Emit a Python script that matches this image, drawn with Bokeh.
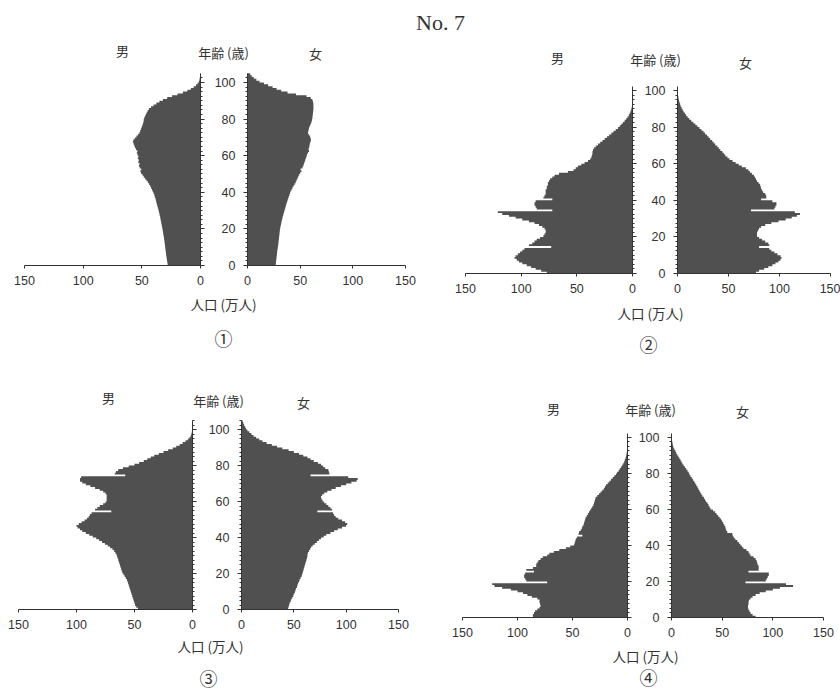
import numpy as np
from bokeh.plotting import figure
from bokeh.models import (Range1d, LinearAxis, FixedTicker, SingleIntervalTicker,
                          Label, CustomJSTickFormatter)
from bokeh.layouts import column, row
from bokeh.embed import file_html
from bokeh.resources import INLINE

# ---------------------------------------------------------------- data
# single-year ages; population per age in units of 10,000 people (万人)
ages_105 = list(range(105))
ages_102 = list(range(102))

male_1 = [28.0, 28.2, 28.5, 28.7, 29.0, 29.2, 29.4, 29.6, 29.8, 30.0,
          30.2, 30.4, 30.6, 30.8, 31.0, 31.2, 31.5, 31.8, 32.0, 32.3,
          32.6, 32.9, 33.2, 33.5, 33.8, 34.1, 34.4, 34.8, 35.1, 35.5,
          35.9, 36.3, 36.8, 37.2, 37.6, 38.0, 38.4, 38.9, 39.4, 40.0,
          40.7, 41.4, 42.1, 42.9, 43.8, 44.8, 46.0, 47.2, 48.4, 49.5,
          50.6, 51.2, 50.5, 51.8, 52.4, 52.0, 53.0, 52.6, 53.4, 53.0,
          53.6, 54.2, 53.8, 55.0, 55.8, 56.4, 57.0, 57.6, 57.2, 56.0,
          54.6, 53.2, 52.0, 51.4, 50.8, 50.2, 49.6, 49.0, 48.6, 48.4,
          48.0, 47.4, 46.6, 45.8, 45.0, 44.0, 42.2, 40.0, 37.6, 35.0,
          32.0, 28.4, 24.2, 19.6, 15.0, 11.2, 8.2, 5.8, 3.8, 2.4,
          1.4, 0.9, 0.6, 0.4, 0.2]
female_1 = [26.8, 27.0, 27.2, 27.4, 27.6, 27.8, 28.0, 28.2, 28.4, 28.7,
            29.0, 29.2, 29.4, 29.6, 29.8, 30.0, 30.2, 30.4, 30.6, 30.8,
            31.1, 31.4, 31.8, 32.2, 32.6, 33.0, 33.4, 33.9, 34.4, 34.9,
            35.4, 35.9, 36.4, 36.9, 37.4, 38.0, 38.6, 39.2, 39.8, 40.4,
            41.0, 41.9, 42.8, 43.8, 44.8, 45.8, 46.6, 47.4, 48.2, 49.0,
            50.0, 51.2, 50.4, 52.2, 53.0, 53.6, 54.2, 54.8, 55.4, 56.0,
            56.4, 57.4, 58.4, 58.0, 58.6, 58.8, 59.2, 59.8, 60.2, 60.0,
            59.4, 58.2, 57.4, 57.8, 58.2, 58.6, 59.4, 60.2, 60.8, 61.2,
            61.6, 61.8, 62.0, 62.2, 62.4, 62.6, 62.6, 62.6, 62.5, 62.2,
            61.6, 60.0, 56.0, 46.0, 38.0, 32.0, 27.6, 23.8, 19.6, 15.6,
            11.4, 8.4, 6.0, 4.0, 2.6]

male_2 = [77, 82, 87, 91, 95, 99, 102, 104, 106, 105,
          103, 101, 99, 97, 73, 93, 90, 88, 86, 83,
          80, 79, 78, 78, 79, 81, 84, 88, 93, 99,
          105, 111, 117, 121, 72, 86, 87, 88, 88, 87,
          72, 80, 79, 78, 78, 78, 77, 77, 76, 76,
          75, 74, 72, 70, 66, 58, 53, 51, 49, 46,
          43, 40, 38, 37, 36.5, 36, 36, 35.5, 34.5, 33,
          31, 29, 27, 25, 23, 21, 19, 17, 15, 13,
          11.5, 10, 8.5, 7, 5.6, 4.4, 3.3, 2.5, 1.8, 1.2,
          0.8, 0.5, 0.35, 0.25, 0.15, 0.1, 0.07, 0.05, 0.03, 0.02,
          0.01, 0.01]
female_2 = [77, 80, 85, 89, 93, 96, 99, 101, 102, 101,
            98, 95, 92, 90, 80, 90, 89, 86, 83, 80,
            78, 78, 78, 79, 80, 82, 86, 92, 99, 106,
            112, 117, 120, 115, 72, 95, 96, 97, 97, 93,
            82, 87, 87, 86, 84, 83, 82, 81.5, 81, 79.5,
            78, 77, 76, 75, 73, 71, 69.5, 67, 63, 60,
            57, 54, 51, 49, 47, 45.5, 44, 42, 40.5, 39,
            37, 35.5, 34, 32, 30.5, 29, 27, 25.5, 23.5, 21.5,
            19.5, 17.5, 15.5, 13.5, 11.5, 10, 8.5, 7.3, 6, 5,
            4, 3.2, 2.6, 2, 1.5, 1.1, 0.8, 0.5, 0.35, 0.25,
            0.15, 0.1]

male_3 = [47, 48.5, 49.5, 50, 50.5, 51, 51.5, 52, 52.5, 53,
          53.5, 54, 54.5, 55, 55.5, 56, 56.5, 57.5, 58.5, 59.5,
          60.5, 61, 61.5, 62, 62.5, 63, 63.5, 64, 64.5, 65,
          65.5, 66.5, 67.5, 69, 71, 73, 75.5, 78, 80.5, 83,
          86, 89, 92, 95, 97, 99, 100, 98, 95.5, 93,
          91, 89.5, 88.5, 87, 70, 84, 82, 80, 77, 75,
          74, 74, 74, 74, 75, 77, 80, 84, 88, 92,
          95, 97, 97, 96, 58, 67, 66, 64, 60, 55,
          50, 46, 42, 39, 36, 33, 29, 25, 21, 17,
          14, 11, 8.5, 6, 4, 2.5, 1.5, 1, 0.6, 0.4,
          0.3, 0.2, 0.1, 0.05, 0.03]
female_3 = [44.5, 45, 45.5, 46, 47, 47.5, 48.5, 49.5, 50, 51,
            51.5, 52, 53, 53.5, 54, 55, 55.5, 56.5, 57.5, 58,
            58.5, 59, 59.5, 60, 60.5, 61, 61.5, 62, 62.5, 63,
            63, 63.5, 64.5, 65.5, 66.5, 68, 70, 72, 74, 76,
            78.5, 81, 85, 88.5, 92, 96, 100, 101, 99, 96,
            92.5, 90, 88.5, 87.5, 72.5, 86.5, 85, 83, 81, 79,
            77.5, 76.5, 76, 77, 79, 82, 86, 90, 95, 100,
            105, 110, 111, 102, 66, 84, 83.5, 83, 80, 78,
            76, 73, 69, 66, 63, 59, 55, 50, 45, 39,
            34, 29, 24, 20, 17, 14, 11.5, 9.5, 7.5, 5.7,
            4.3, 3.4, 2.5, 1.8, 1.2]

male_4 = [86, 86, 85, 84, 82, 80, 79, 79.5, 80, 80,
          82, 87, 91, 95, 100, 106, 114, 121, 123, 73,
          92, 93, 94, 94, 93, 85, 92, 86, 83, 83,
          82, 81, 79, 77, 73, 71, 67, 62, 56, 52,
          48.5, 48, 47.5, 47, 46, 41, 44.5, 44, 42.5, 41.5,
          41, 40, 39.5, 39, 38.5, 38, 37, 36, 35, 34,
          33, 32, 31, 30.5, 30, 29.5, 29, 27.5, 26, 24.5,
          23, 21.5, 20.5, 19.5, 18, 16.5, 15, 13.5, 12, 10.5,
          9.5, 8, 7, 5.8, 4.8, 3.8, 3, 2.4, 1.8, 1.4,
          1, 0.7, 0.5, 0.35, 0.25, 0.18, 0.12, 0.08, 0.05, 0.03,
          0.02, 0.01]
female_4 = [83, 80, 78, 77, 76, 75.5, 75.5, 76, 76, 76.5,
            78, 80, 83, 87, 93, 100, 107, 120, 113, 73,
            93, 94, 95, 96, 96, 76, 86, 86, 86, 85,
            84.5, 84, 83, 81, 78, 77, 76, 74, 71, 69.5,
            68, 66.5, 65, 63, 61.5, 60.5, 60, 55, 54, 53.5,
            53, 52, 51, 50, 49, 47.5, 46, 44.5, 43, 41,
            38.5, 37.5, 36.5, 35.5, 34, 33, 32, 30.5, 29.5, 28.5,
            27.5, 26.5, 25.5, 24.5, 23.5, 22.5, 21.2, 20, 18.8, 17.8,
            17, 15.8, 14.5, 13.3, 12, 10.8, 9.8, 8.8, 7.8, 6.7,
            5.6, 4.6, 3.8, 2.8, 2, 1.5, 1.1, 0.8, 0.5, 0.35,
            0.2, 0.1]

pop_ticks = [0, 50, 100, 150]
age_tick_step = 20
marks = ["①", "②", "③", "④"]

# ---------------------------------------------------------------- style
BAR = "#505050"
INK = "#333333"
LATIN = "Liberation Sans"
CJK = "Noto Sans CJK JP"

# geometry of each pyramid, in pixels of its own canvas:
# plot = (top, bottom) of the age axis; *_axis = (pixel of 0, pixel of 150)
GEOMETRY = [
    dict(size=(420, 325), plot=(33, 225), male_axis=(200, 24),
         female_axis=(247, 405), age_top=104.9,
         text=dict(male=(122, 10), age=(223, 12), female=(315, 13),
                   pop=(223, 263), mark=(223, 297))),
    dict(size=(420, 325), plot=(46, 233), male_axis=(212, 45),
         female_axis=(257, 410), age_top=102.2,
         text=dict(male=(137, 17), age=(235, 19), female=(325, 22),
                   pop=(230, 272), mark=(228, 303))),
    dict(size=(420, 328), plot=(55, 244), male_axis=(192, 18),
         female_axis=(241, 398), age_top=105.0,
         text=dict(male=(108, 32), age=(218, 35), female=(303, 37),
                   pop=(210, 280), mark=(208, 312))),
    dict(size=(420, 328), plot=(68, 252), male_axis=(207, 42),
         female_axis=(251, 403), age_top=102.2,
         text=dict(male=(133, 43), age=(230, 44), female=(322, 46),
                   pop=(225, 290), mark=(228, 311))),
]


def style_axis(ax, tick_out, standoff):
    ax.axis_line_color = INK
    ax.axis_line_width = 1
    ax.major_tick_line_color = INK
    ax.minor_tick_line_color = INK
    ax.major_tick_in = 0
    ax.major_tick_out = tick_out
    ax.minor_tick_in = 0
    ax.minor_tick_out = 2
    ax.major_label_standoff = standoff
    ax.major_label_text_font = LATIN
    ax.major_label_text_font_size = "12.5px"
    ax.major_label_text_color = INK


def step_outline(ages, values):
    """Outline of a stack of one-year bars, from the axis out to each value."""
    a = np.asarray(ages, dtype=float)
    v = np.asarray(values, dtype=float)
    xs = np.concatenate([[0.0], np.repeat(v, 2), [0.0]])
    ys = np.concatenate([[a[0]], np.column_stack([a, a + 1]).ravel(), [a[-1] + 1]])
    return xs, ys


def pyramid(geo, ages, male, female, mark):
    w, h = geo["size"]
    pt, pb = geo["plot"]
    m0, m150 = geo["male_axis"]
    f0, f150 = geo["female_axis"]
    km = (m0 - m150) / 150.0          # px per 万人, male half
    kf = (f150 - f0) / 150.0          # px per 万人, female half
    top = geo["age_top"]
    ky = (pb - pt) / top              # px per year of age

    # the frame fills the whole canvas, so every mark and caption stays inside it
    female_range = Range1d(-f0 / kf, (w - f0) / kf)
    male_range = Range1d(m0 / km, (m0 - w) / km)       # reversed: grows leftwards
    age_range = Range1d(-(h - pb) / ky, pb / ky)

    p = figure(width=w, height=h, x_range=female_range, y_range=age_range,
               x_axis_location=None, y_axis_location=None, title=None,
               toolbar_location=None, output_backend="svg", min_border=0,
               outline_line_color=None, background_fill_color="white",
               border_fill_color="white")
    p.extra_x_ranges = {"male": male_range}
    p.grid.visible = False

    mx, my = step_outline(ages, male)
    p.patch(x=mx, y=my, x_range_name="male", fill_color=BAR, line_color=None)
    fx, fy = step_outline(ages, female)
    p.patch(x=fx, y=fy, fill_color=BAR, line_color=None)

    # population axes, one under each half
    for rng in ("male", "default"):
        ax = LinearAxis(x_range_name=rng, fixed_location=0, bounds=(0, 150),
                        ticker=FixedTicker(ticks=pop_ticks))
        style_axis(ax, 3, 7)
        p.add_layout(ax, "below")

    # age axes along the inner edge of each half; labels sit in the gap
    fa = LinearAxis(fixed_location=0, bounds=(0, top),
                    ticker=SingleIntervalTicker(interval=age_tick_step, num_minor_ticks=8))
    style_axis(fa, 4, 8)
    p.add_layout(fa, "left")
    ma = LinearAxis(x_range_name="male", fixed_location=0, bounds=(0, top),
                    ticker=SingleIntervalTicker(interval=age_tick_step, num_minor_ticks=8),
                    formatter=CustomJSTickFormatter(code="return ''"))
    style_axis(ma, 4, 8)
    p.add_layout(ma, "right")

    def place(key):
        px, py = geo["text"][key]
        return (px - f0) / kf, (pb - py) / ky

    captions = [("male", "男", CJK, "13px"), ("age", "年齢 (歳)", CJK, "13px"),
                ("female", "女", CJK, "13px"), ("pop", "人口 (万人)", CJK, "13.5px"),
                ("mark", mark, CJK, "18px")]
    for key, text, font, size in captions:
        x, yy = place(key)
        p.add_layout(Label(x=x, y=yy, text=text, text_align="center",
                           text_baseline="middle", text_font=font,
                           text_font_size=size, text_color=INK))
    return p


data = [(ages_105, male_1, female_1), (ages_102, male_2, female_2),
        (ages_105, male_3, female_3), (ages_102, male_4, female_4)]
plots = [pyramid(g, a, m, f, mk) for g, (a, m, f), mk in zip(GEOMETRY, data, marks)]

head = figure(width=840, height=40, x_range=Range1d(0, 840), y_range=Range1d(0, 40),
              x_axis_location=None, y_axis_location=None, title=None,
              toolbar_location=None, output_backend="svg", min_border=0,
              outline_line_color=None)
head.grid.visible = False
head.add_layout(Label(x=440, y=18, text="No. 7", text_align="center",
                      text_baseline="middle", text_font="Liberation Serif",
                      text_font_size="22px", text_color=INK))

layout = column(head, row(plots[0], plots[1]), row(plots[2], plots[3]))

with open("out.html", "w") as fh:
    fh.write(file_html(layout, INLINE, title="人口ピラミッド"))
